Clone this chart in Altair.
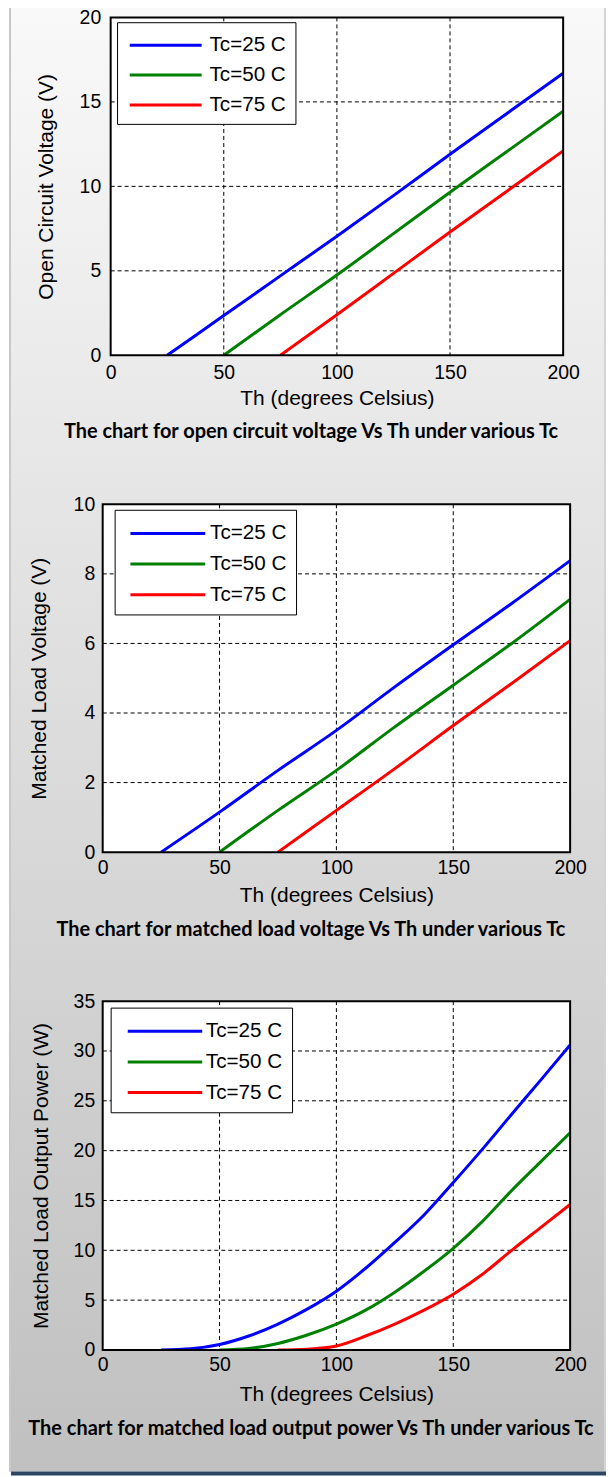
import altair as alt
import pandas as pd

FONT = "Liberation Sans"
CAP_FONT = "Lato"

TH_TICKS = [0, 50, 100, 150, 200]
SERIES = ["Tc=25 C", "Tc=50 C", "Tc=75 C"]
COLORS = ["#0000ff", "#008000", "#ff0000"]

# Panel 1: open circuit voltage (V)
th_25 = [25, 50, 75, 100, 125, 150, 175, 200]
th_50 = [50, 75, 100, 125, 150, 175, 200]
th_75 = [75, 100, 125, 150, 175, 200]
voc_25 = [0, 2.35, 4.7, 7.05, 9.45, 11.9, 14.3, 16.7]
voc_50 = [0, 2.4, 4.75, 7.2, 9.65, 12.05, 14.45]
voc_75 = [0, 2.4, 4.85, 7.3, 9.7, 12.1]

# Panel 2: matched load voltage (V)
vml_25 = [0, 1.15, 2.35, 3.5, 4.75, 5.96, 7.15, 8.38]
vml_50 = [0, 1.2, 2.35, 3.6, 4.8, 6.0, 7.27]
vml_75 = [0, 1.2, 2.4, 3.64, 4.85, 6.08]

# Panel 3: matched load output power (W)
pth_25 = [25, 37.5, 50, 62.5, 75, 87.5, 100, 112.5, 125, 137.5, 150, 162.5, 175, 187.5, 200]
p_25 = [0, 0.12, 0.55, 1.4, 2.6, 4.1, 5.9, 8.2, 10.8, 13.55, 16.8, 20.15, 23.65, 27.1, 30.6]
pth_50 = [50, 62.5, 75, 87.5, 100, 112.5, 125, 137.5, 150, 162.5, 175, 187.5, 200]
p_50 = [0, 0.15, 0.65, 1.5, 2.6, 4.0, 5.8, 7.9, 10.2, 12.9, 16.0, 18.9, 21.8]
pth_75 = [75, 87.5, 100, 112.5, 125, 137.5, 150, 162.5, 175, 187.5, 200]
p_75 = [0, 0.08, 0.4, 1.4, 2.6, 4.0, 5.6, 7.6, 10.0, 12.3, 14.6]

Y1_TICKS = [0, 5, 10, 15, 20]
Y2_TICKS = [0, 2, 4, 6, 8, 10]
Y3_TICKS = [0, 5, 10, 15, 20, 25, 30, 35]

CAPTIONS = [
    "The chart for open circuit voltage Vs Th under various Tc",
    "The chart for matched load voltage Vs Th under various Tc",
    "The chart for matched load output power Vs Th under various Tc",
]
YTITLES = ["Open Circuit Voltage (V)", "Matched Load Voltage (V)", "Matched Load Output Power (W)"]

ONE = pd.DataFrame({"k": [0]})


def grad(c0, c1):
    return alt.Gradient(
        gradient="linear",
        stops=[alt.GradientStop(color=c0, offset=0), alt.GradientStop(color=c1, offset=1)],
        x1=0, x2=0, y1=0, y2=1,
    )


def panel(ths, vals, yticks, ytitle, caption, g):
    rows = []
    for s, tl, vl in zip(SERIES, ths, vals):
        for t, v in zip(tl, vl):
            rows.append({"Th": t, "val": v, "series": s})
    df = pd.DataFrame(rows)
    w, h = g["w"], g["h"]
    px0, px1 = g["px0"], g["px1"]
    xs = alt.Scale(domain=[0, 200], nice=False, zero=False, range=[px0, px1])
    ys = alt.Scale(domain=[0, yticks[-1]], nice=False)
    xaxis = alt.Axis(
        values=TH_TICKS, title="Th (degrees Celsius)", grid=False, domain=False, ticks=False,
        tickSize=0, labelFlush=False, labelFont=FONT, labelFontSize=19.5, labelColor="black",
        labelPadding=g["xlp"], titleFont=FONT, titleFontSize=21, titleFontWeight="normal",
        titleColor="black", titleX=(px0 + px1) / 2, titleY=g["xty"], titleBaseline="middle",
        titleAlign="center", zindex=1,
    )
    yaxis = alt.Axis(
        values=yticks, title=ytitle, grid=False, domain=False, ticks=False, tickSize=0,
        labelFlush=False, labelFont=FONT, labelFontSize=19.5, labelColor="black",
        labelPadding=g["ylp"], titleFont=FONT, titleFontSize=21, titleFontWeight="normal",
        titleColor="black", titleX=g["ytx"], titleY=h / 2, titleBaseline="middle",
        titleAngle=270, zindex=1,
    )
    X = lambda f: alt.X(f, scale=xs, axis=xaxis)
    Y = lambda f: alt.Y(f, scale=ys, axis=yaxis)

    layers = [
        alt.Chart(ONE).mark_rect(fill=grad(g["c0"], g["c1"]), clip=False).encode(
            x=alt.value(g["bx0"]), x2=alt.value(g["bx1"]), y=alt.value(g["by0"]), y2=alt.value(g["by1"])
        ),
        alt.Chart(ONE).mark_rect(fill="#c8c8c8").encode(
            x=alt.value(g["bx0"]), x2=alt.value(g["bx0"] + 2), y=alt.value(g["by0"]), y2=alt.value(g["by1"])
        ),
        alt.Chart(ONE).mark_rect(fill="#d4d4d4").encode(
            x=alt.value(g["bx1"] - 2), x2=alt.value(g["bx1"]), y=alt.value(g["by0"]), y2=alt.value(g["by1"])
        ),
        alt.Chart(ONE).mark_rect(fill="white").encode(
            x=alt.value(px0), x2=alt.value(px1), y=alt.value(0), y2=alt.value(h)
        ),
        alt.Chart(pd.DataFrame({"v": TH_TICKS[1:-1]})).mark_rule(
            color="black", strokeDash=[4, 3], strokeWidth=1
        ).encode(x=X("v:Q")),
        alt.Chart(pd.DataFrame({"v": yticks[1:-1]})).mark_rule(
            color="black", strokeDash=[4, 3], strokeWidth=1
        ).encode(y=Y("v:Q"), x=alt.value(px0), x2=alt.value(px1)),
        alt.Chart(df).mark_line(strokeWidth=3, clip=True, interpolate="monotone").encode(
            x=X("Th:Q"),
            y=Y("val:Q"),
            color=alt.Color(
                "series:N",
                scale=alt.Scale(domain=SERIES, range=COLORS),
                legend=alt.Legend(
                    title=None, orient="none", legendX=g["lx"], legendY=g["ly"],
                    fillColor="white", strokeColor="black", cornerRadius=0,
                    padding=g["lpad"], rowPadding=g["lrow"],
                    symbolType="M-3,0H3", symbolSize=g["lsize"], symbolStrokeWidth=3,
                    symbolOffset=g["lsoff"], labelOffset=g["lloff"],
                    labelFont=FONT, labelFontSize=20.7, labelColor="black", labelLimit=300,
                ),
            ),
        ),
        alt.Chart(ONE).mark_rect(filled=False, stroke="black", strokeWidth=2).encode(
            x=alt.value(px0), x2=alt.value(px1), y=alt.value(0), y2=alt.value(h)
        ),
        alt.Chart(ONE).mark_text(
            text=caption, font=CAP_FONT, fontWeight="bold", fontSize=20, color="black",
            align="center", baseline="middle",
        ).encode(x=alt.value(g["cx"]), y=alt.value(g["cy"])),
    ]
    if g.get("line"):
        layers.append(
            alt.Chart(ONE).mark_rect(fill="#2b4764").encode(
                x=alt.value(g["bx0"] + 2), x2=alt.value(g["bx1"]),
                y=alt.value(g["by1"]), y2=alt.value(g["by1"] + 4),
            )
        )
    return alt.layer(*layers).properties(width=w, height=h)


# every group origin sits at page x=102; panel 1 plot spans page 110..564
G1 = dict(w=462, h=339, px0=8, px1=462, xlp=8, xty=43.7, ylp=2, ytx=-56,
          bx0=-94, bx1=505, by0=-12, by1=464,
          c0="#f9f9f9", c1="#e6e6e6", lx=14.4, ly=4.8, lpad=9, lrow=6.0, lsize=578,
          lsoff=25.8, lloff=30, cx=209, cy=416)
G2 = dict(w=469, h=349, px0=0, px1=469, xlp=6, xty=44, ylp=8, ytx=-63,
          bx0=-94, bx1=505, by0=-28, by1=474,
          c0="#e6e6e6", c1="#d3d3d3", lx=12, ly=5.5, lpad=9.75, lrow=6.7, lsize=625,
          lsoff=29.6, lloff=28.4, cx=209, cy=427.3)
G3 = dict(w=469, h=350, px0=0, px1=469, xlp=6, xty=45, ylp=8, ytx=-61.3,
          bx0=-94, bx1=505, by0=-27, by1=472,
          c0="#d3d3d3", c1="#c0c0c0", lx=8, ly=6.5, lpad=9.8, lrow=6.7, lsize=620,
          lsoff=30.7, lloff=27, cx=209, cy=429, line=True)

p1 = panel([th_25, th_50, th_75], [voc_25, voc_50, voc_75], Y1_TICKS, YTITLES[0], CAPTIONS[0], G1)
p2 = panel([th_25, th_50, th_75], [vml_25, vml_50, vml_75], Y2_TICKS, YTITLES[1], CAPTIONS[1], G2)
p3 = panel([pth_25, pth_50, pth_75], [p_25, p_50, p_75], Y3_TICKS, YTITLES[2], CAPTIONS[2], G3)

chart = (
    alt.concat(p1, p2, p3, columns=1, spacing=149.5, align="none", bounds="flush")
    .resolve_scale(color="independent", x="independent", y="independent")
    .resolve_legend(color="independent")
    .properties(padding={"left": 0, "top": -6, "right": 0, "bottom": 0})
    .configure_view(stroke="transparent")
)

chart.save("out.html", embed_options={"renderer": "svg", "actions": False})
